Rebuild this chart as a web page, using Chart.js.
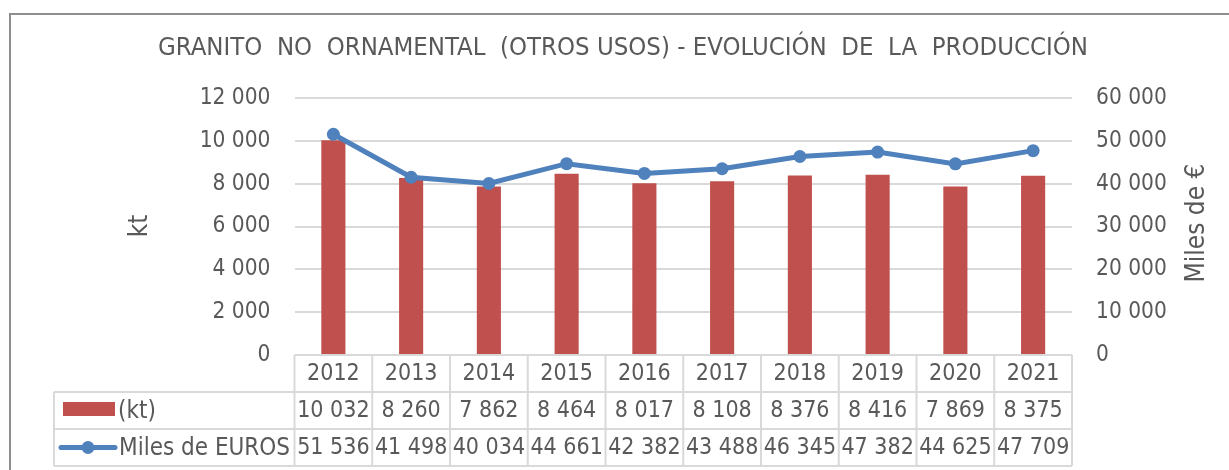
<!DOCTYPE html>
<html>
<head>
<meta charset="utf-8">
<script src="https://cdn.jsdelivr.net/npm/chart.js@4"></script>
<style>
  body { margin: 0; background: #fff; }
  #wrap { width: 1229px; height: 470px; }
</style>
</head>
<body>
<div id="wrap"><canvas id="granito-chart" width="1229" height="470"></canvas></div>
<script>
const years = ["2012", "2013", "2014", "2015", "2016", "2017", "2018", "2019", "2020", "2021"];
const kt = [10032, 8260, 7862, 8464, 8017, 8108, 8376, 8416, 7869, 8375];
const milesEuros = [51536, 41498, 40034, 44661, 42382, 43488, 46345, 47382, 44625, 47709];

const FONT = "'DejaVu Sans Condensed', 'DejaVu Sans', sans-serif";
const TEXT = "#595959";
const GRID = "#d9d9d9";
const RED = "#c0504d";
const BLUE = "#4f81bd";

function fmt(n) {
  return String(n).replace(/\B(?=(\d{3})+(?!\d))/g, " ");
}

// draws the outer frame, axis titles and the Excel-style data table
const tablePlugin = {
  id: "dataTable",
  beforeDraw(chart) {
    const ctx = chart.ctx;
    ctx.save();
    ctx.strokeStyle = "#8f8f8f";
    ctx.lineWidth = 2;
    ctx.beginPath();
    ctx.moveTo(10, chart.height);
    ctx.lineTo(10, 14);
    ctx.lineTo(chart.width, 14);
    ctx.stroke();
    ctx.restore();
  },
  afterDraw(chart) {
    const ctx = chart.ctx;
    const area = chart.chartArea;
    const x = chart.scales.x;
    const half = (area.right - area.left) / years.length / 2;
    const rowH = 37;
    const top = area.bottom;
    const legendLeft = 54;

    ctx.save();
    // axis titles
    ctx.fillStyle = TEXT;
    ctx.font = "26px " + FONT;
    ctx.textAlign = "center";
    ctx.textBaseline = "middle";
    ctx.save();
    ctx.translate(140, 226);
    ctx.rotate(-Math.PI / 2);
    ctx.fillText("kt", 0, 0);
    ctx.restore();
    ctx.save();
    ctx.translate(1197, 223);
    ctx.rotate(-Math.PI / 2);
    ctx.fillText("Miles de €", 0, 0);
    ctx.restore();

    // grid of the table
    ctx.strokeStyle = GRID;
    ctx.lineWidth = 2;
    ctx.beginPath();
    ctx.moveTo(area.left, top);
    ctx.lineTo(area.right, top);
    for (let r = 1; r <= 3; r++) {
      ctx.moveTo(legendLeft, top + r * rowH);
      ctx.lineTo(area.right, top + r * rowH);
    }
    ctx.moveTo(legendLeft, top + rowH);
    ctx.lineTo(legendLeft, top + 3 * rowH);
    for (let i = 0; i <= years.length; i++) {
      const cx = area.left + i * 2 * half;
      ctx.moveTo(cx, top);
      ctx.lineTo(cx, top + 3 * rowH);
    }
    ctx.stroke();

    // cell texts
    ctx.font = "23px " + FONT;
    ctx.fillStyle = TEXT;
    ctx.textAlign = "center";
    years.forEach((y, i) => {
      const cx = x.getPixelForValue(i);
      ctx.fillText(y, cx, top + rowH * 0.5 + 1);
      ctx.fillText(fmt(kt[i]), cx, top + rowH * 1.5 + 1);
      ctx.fillText(fmt(milesEuros[i]), cx, top + rowH * 2.5 + 1);
    });

    // legend keys
    ctx.fillStyle = RED;
    ctx.fillRect(63, top + rowH + 10, 52, 14);
    ctx.strokeStyle = BLUE;
    ctx.lineWidth = 5;
    ctx.lineCap = "round";
    ctx.beginPath();
    ctx.moveTo(61, top + rowH * 2.5);
    ctx.lineTo(115, top + rowH * 2.5);
    ctx.stroke();
    ctx.fillStyle = BLUE;
    ctx.beginPath();
    ctx.arc(88, top + rowH * 2.5, 6.5, 0, Math.PI * 2);
    ctx.fill();

    ctx.font = "24px " + FONT;
    ctx.fillStyle = TEXT;
    ctx.textAlign = "left";
    ctx.fillText("(kt)", 118, top + rowH * 1.5 + 1);
    ctx.fillText("Miles de EUROS", 119, top + rowH * 2.5 + 1);
    ctx.restore();
  },
};

const config = {
  data: {
    labels: years,
    datasets: [
      {
        type: "line",
        label: "Miles de EUROS",
        data: milesEuros,
        yAxisID: "y1",
        borderColor: BLUE,
        backgroundColor: BLUE,
        borderWidth: 5,
        pointRadius: 6.5,
        pointBorderWidth: 0,
        tension: 0,
        order: 0,
      },
      {
        type: "bar",
        label: "(kt)",
        data: kt,
        yAxisID: "y",
        backgroundColor: RED,
        borderWidth: 0,
        barPercentage: 0.31,
        categoryPercentage: 1,
        order: 1,
      },
    ],
  },
  options: {
    responsive: false,
    animation: false,
    layout: {
      padding: { left: 17, right: 0, top: 0, bottom: 115 },
    },
    plugins: {
      legend: { display: false },
      tooltip: { enabled: false },
      title: {
        display: true,
        text: "GRANITO  NO  ORNAMENTAL  (OTROS USOS) - EVOLUCIÓN  DE  LA  PRODUCCIÓN",
        color: TEXT,
        font: { family: FONT, size: 25.5, weight: "normal" },
        padding: { top: 33, bottom: 34.4 },
      },
    },
    scales: {
      x: {
        display: false,
      },
      y: {
        position: "left",
        min: 0,
        max: 12000,
        ticks: {
          stepSize: 2000,
          color: TEXT,
          font: { family: FONT, size: 22.5 },
          padding: 24,
          callback: v => fmt(v),
        },
        grid: { color: GRID, lineWidth: 2, drawTicks: false },
        border: { display: false },
        afterFit(scale) { scale.width = 277.5; },
      },
      y1: {
        position: "right",
        min: 0,
        max: 60000,
        ticks: {
          stepSize: 10000,
          color: TEXT,
          font: { family: FONT, size: 22.5 },
          padding: 24,
          callback: v => fmt(v),
        },
        grid: { display: false, drawTicks: false },
        border: { display: false },
        afterFit(scale) { scale.width = 157; },
      },
    },
  },
  plugins: [tablePlugin],
};

new Chart(document.getElementById("granito-chart"), config);
</script>
</body>
</html>
